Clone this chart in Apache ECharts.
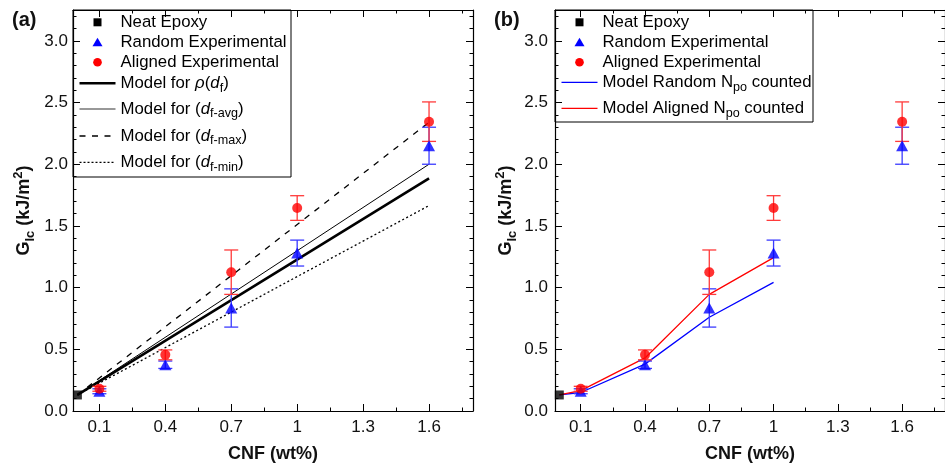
<!DOCTYPE html>
<html>
<head>
<meta charset="utf-8">
<script src="https://cdn.jsdelivr.net/npm/echarts@6/dist/echarts.min.js"></script>
<style>
  html, body { margin: 0; padding: 0; background: #fff; }
  #chart { width: 945px; height: 468px; }
</style>
</head>
<body>
<div id="chart"></div>
<script>
// ---- data: fracture toughness G_Ic (kJ/m^2) vs CNF loading (wt%) ----
const cnfLevels      = [0.1, 0.4, 0.7, 1.0, 1.6];
const randomMean     = [0.16, 0.375, 0.835, 1.28, 2.15];
const randomErr      = [0.02, 0.03, 0.155, 0.105, 0.15];
const alignedMean    = [0.18, 0.455, 1.125, 1.645, 2.345];
const alignedErr     = [0.02, 0.04, 0.18, 0.10, 0.16];
const neatCnf        = [0];
const neatMean       = [0.13];

// model predictions, panel (a): fibre-diameter based models
const modelAX        = [0, 1.6];
const modelRho       = [0.13, 1.885];
const modelAvg       = [0.13, 2.0];
const modelMax       = [0.13, 2.34];
const modelMin       = [0.13, 1.665];

// model predictions, panel (b): pull-out count based models
const modelBX        = [0, 0.1, 0.4, 0.7, 1.0];
const modelRandomNpo = [0.13, 0.15, 0.38, 0.76, 1.043];
const modelAlignNpo  = [0.13, 0.165, 0.43, 0.945, 1.243];

// axis ticks
const xMajorTicks = [0.1, 0.4, 0.7, 1.0, 1.3, 1.6];
const xTickLabels = ['0.1', '0.4', '0.7', '1', '1.3', '1.6'];
const xMinorTicks = [0.25, 0.55, 0.85, 1.15, 1.45, 1.75];
const yMajorTicks = [0, 0.5, 1.0, 1.5, 2.0, 2.5, 3.0];
const yTickLabels = ['0.0', '0.5', '1.0', '1.5', '2.0', '2.5', '3.0'];
const yMinorTicks = [0.1, 0.2, 0.3, 0.4, 0.6, 0.7, 0.8, 0.9, 1.1, 1.2, 1.3, 1.4,
                     1.6, 1.7, 1.8, 1.9, 2.1, 2.2, 2.3, 2.4, 2.6, 2.7, 2.8, 2.9, 3.1, 3.2];

// ---- styling ----
const FONT = "'Liberation Sans', Arial, Helvetica, sans-serif";
const X_MIN = -0.02, X_MAX = 1.8, Y_MIN = 0, Y_MAX = 3.25;
const BLUE = '#0000ff', RED = '#ff0000';
const BLUE_BAR = '#3a3aff', RED_BAR = '#ff3a3a';

const zip = (xs, ys) => xs.map((x, i) => [x, ys[i]]);
const zip3 = (xs, ys, es) => xs.map((x, i) => [x, ys[i], es[i]]);

function tickLabel(values, labels) {
  return v => {
    const i = values.findIndex(t => Math.abs(t - v) < 1e-9);
    return i >= 0 ? labels[i] : '';
  };
}

const frameLine = { show: true, onZero: false, lineStyle: { color: '#000', width: 1.2 } };
const tickStyle = { color: '#000', width: 1 };

function makeXAxes(grid) {
  const base = { type: 'value', gridIndex: grid, min: X_MIN, max: X_MAX, splitLine: { show: false } };
  return [
    Object.assign({}, base, {
      position: 'bottom', axisLine: frameLine,
      axisTick: { show: true, inside: true, length: 7, customValues: xMajorTicks, lineStyle: tickStyle },
      axisLabel: { show: true, customValues: xMajorTicks, formatter: tickLabel(xMajorTicks, xTickLabels),
                   margin: 8, color: '#111', fontSize: 17, fontFamily: FONT },
      name: 'CNF (wt%)', nameLocation: 'middle', nameGap: 34,
      nameTextStyle: { color: '#111', fontSize: 18, fontWeight: 'bold', fontFamily: FONT }
    }),
    Object.assign({}, base, {
      position: 'bottom', axisLine: { show: false, onZero: false },
      axisTick: { show: true, inside: true, length: 3.5, customValues: xMinorTicks, lineStyle: tickStyle },
      axisLabel: { show: false }
    }),
    Object.assign({}, base, {
      position: 'top', axisLine: frameLine,
      axisTick: { show: true, inside: true, length: 7, customValues: xMajorTicks, lineStyle: tickStyle },
      axisLabel: { show: false }
    }),
    Object.assign({}, base, {
      position: 'top', axisLine: { show: false, onZero: false },
      axisTick: { show: true, inside: true, length: 3.5, customValues: xMinorTicks, lineStyle: tickStyle },
      axisLabel: { show: false }
    })
  ];
}

function makeYAxes(grid, labelMargin) {
  const base = { type: 'value', gridIndex: grid, min: Y_MIN, max: Y_MAX, splitLine: { show: false } };
  return [
    Object.assign({}, base, {
      position: 'left', axisLine: frameLine,
      axisTick: { show: true, inside: true, length: 7, customValues: yMajorTicks, lineStyle: tickStyle },
      axisLabel: { show: true, customValues: yMajorTicks, formatter: tickLabel(yMajorTicks, yTickLabels),
                   margin: labelMargin, color: '#111', fontSize: 17, fontFamily: FONT },
      name: '{b|G}{bs|Ic}{b| (kJ/m}{bp|2}{b|)}', nameLocation: 'middle', nameGap: 36, nameRotate: 90,
      nameTextStyle: {
        color: '#111', fontFamily: FONT,
        rich: {
          b:  { fontSize: 18, fontWeight: 'bold', fontFamily: FONT, color: '#111', lineHeight: 25 },
          bs: { fontSize: 13, fontWeight: 'bold', fontFamily: FONT, color: '#111', verticalAlign: 'bottom' },
          bp: { fontSize: 13, fontWeight: 'bold', fontFamily: FONT, color: '#111', verticalAlign: 'top' }
        }
      }
    }),
    Object.assign({}, base, {
      position: 'left', axisLine: { show: false, onZero: false },
      axisTick: { show: true, inside: true, length: 3.5, customValues: yMinorTicks, lineStyle: tickStyle },
      axisLabel: { show: false }
    }),
    Object.assign({}, base, {
      position: 'right', axisLine: frameLine,
      axisTick: { show: true, inside: true, length: 7, customValues: yMajorTicks, lineStyle: tickStyle },
      axisLabel: { show: false }
    }),
    Object.assign({}, base, {
      position: 'right', axisLine: { show: false, onZero: false },
      axisTick: { show: true, inside: true, length: 3.5, customValues: yMinorTicks, lineStyle: tickStyle },
      axisLabel: { show: false }
    })
  ];
}

// vertical error bars with caps
function errorBars(name, grid, data, color) {
  return {
    name: name, type: 'custom', xAxisIndex: grid * 4, yAxisIndex: grid * 4,
    data: data, encode: { x: 0, y: 1 }, clip: false, z: 3,
    renderItem: function (params, api) {
      const x = api.value(0), y = api.value(1), e = api.value(2);
      const top = api.coord([x, y + e]);
      const bot = api.coord([x, y - e]);
      const hw = 7;
      const style = { stroke: color, lineWidth: 1.3 };
      return {
        type: 'group',
        children: [
          { type: 'line', shape: { x1: top[0], y1: top[1], x2: bot[0], y2: bot[1] }, style: style },
          { type: 'line', shape: { x1: top[0] - hw, y1: top[1], x2: top[0] + hw, y2: top[1] }, style: style },
          { type: 'line', shape: { x1: bot[0] - hw, y1: bot[1], x2: bot[0] + hw, y2: bot[1] }, style: style }
        ]
      };
    }
  };
}

function modelLine(name, grid, xs, ys, color, width, dash) {
  return {
    name: name, type: 'line', xAxisIndex: grid * 4, yAxisIndex: grid * 4,
    data: zip(xs, ys), symbol: 'none', showSymbol: false, z: 2,
    lineStyle: { color: color, width: width, type: dash || 'solid' }
  };
}

function markers(grid) {
  return [
    { name: 'Neat Epoxy', type: 'scatter', xAxisIndex: grid * 4, yAxisIndex: grid * 4,
      data: zip(neatCnf, neatMean), symbol: 'rect', symbolSize: 9, clip: false, z: 4,
      itemStyle: { color: '#000' } },
    { name: 'Random Experimental', type: 'scatter', xAxisIndex: grid * 4, yAxisIndex: grid * 4,
      data: zip(cnfLevels, randomMean), symbol: 'triangle', symbolSize: [12, 11], clip: false, z: 4,
      itemStyle: { color: BLUE } },
    { name: 'Aligned Experimental', type: 'scatter', xAxisIndex: grid * 4, yAxisIndex: grid * 4,
      data: zip(cnfLevels, alignedMean), symbol: 'circle', symbolSize: 10, clip: false, z: 5,
      itemStyle: { color: RED } }
  ];
}

// ---- legend boxes (drawn as graphic elements) ----
const legendRich = {
  n: { fontSize: 16.8, fontFamily: FONT, fill: '#000', lineHeight: 23 },
  i: { fontSize: 16.8, fontFamily: FONT, fontStyle: 'italic', fill: '#000', lineHeight: 23 },
  s: { fontSize: 12.6, fontFamily: FONT, fill: '#000', verticalAlign: 'bottom' }
};

function legendIcon(icon, cx, cy) {
  if (icon.kind === 'square') {
    return { type: 'rect', shape: { x: cx - 4, y: cy - 4, width: 8, height: 8 }, style: { fill: '#000' } };
  }
  if (icon.kind === 'triangle') {
    return { type: 'polygon', shape: { points: [[cx, cy - 4.5], [cx + 5, cy + 4], [cx - 5, cy + 4]] },
             style: { fill: BLUE } };
  }
  if (icon.kind === 'circle') {
    return { type: 'circle', shape: { cx: cx, cy: cy, r: 4.3 }, style: { fill: RED } };
  }
  return { type: 'line', shape: { x1: cx - 18, y1: cy, x2: cx + 18, y2: cy },
           style: { stroke: icon.color, lineWidth: icon.width, lineDash: icon.dash || null } };
}

function legendBox(x, y, w, h, rows) {
  const children = [
    { type: 'rect', shape: { x: x, y: y, width: w, height: h },
      style: { fill: '#fff', stroke: '#000', lineWidth: 1 } }
  ];
  rows.forEach(r => {
    children.push(legendIcon(r.icon, x + 24.5, r.y));
    children.push({
      type: 'text',
      style: { x: x + 47.5, y: r.y, text: r.text, fill: '#000', fontSize: 16.8, fontFamily: FONT,
               textAlign: 'left', textVerticalAlign: 'middle', rich: legendRich }
    });
  });
  return { type: 'group', z: 100, children: children };
}

const legendA = legendBox(73, 10, 218, 167, [
  { y: 22.3,  icon: { kind: 'square' },   text: '{n|Neat Epoxy}' },
  { y: 42.3,  icon: { kind: 'triangle' }, text: '{n|Random Experimental}' },
  { y: 62.3,  icon: { kind: 'circle' },   text: '{n|Aligned Experimental}' },
  { y: 83.3,  icon: { kind: 'line', color: '#000', width: 2.6 },           text: '{n|Model for }{i|ρ}{n|(}{i|d}{s|f}{n|)}' },
  { y: 109,   icon: { kind: 'line', color: '#333', width: 1.1 },           text: '{n|Model for (}{i|d}{s|f-avg}{n|)}' },
  { y: 136,   icon: { kind: 'line', color: '#000', width: 1.3, dash: [6, 6.5] }, text: '{n|Model for (}{i|d}{s|f-max}{n|)}' },
  { y: 162.3, icon: { kind: 'line', color: '#000', width: 1.3, dash: [2, 2] },   text: '{n|Model for (}{i|d}{s|f-min}{n|)}' }
]);

const legendB = legendBox(555, 10, 258, 112, [
  { y: 22.3,  icon: { kind: 'square' },   text: '{n|Neat Epoxy}' },
  { y: 42.3,  icon: { kind: 'triangle' }, text: '{n|Random Experimental}' },
  { y: 62.3,  icon: { kind: 'circle' },   text: '{n|Aligned Experimental}' },
  { y: 82.3,  icon: { kind: 'line', color: BLUE, width: 1.3 }, text: '{n|Model Random N}{s|po}{n| counted}' },
  { y: 108.3, icon: { kind: 'line', color: RED, width: 1.3 },  text: '{n|Model Aligned N}{s|po}{n| counted}' }
]);

function panelLabel(text, x) {
  return { type: 'text', z: 100,
    style: { x: x, y: 20, text: text, fill: '#111', fontSize: 20, fontWeight: 'bold', fontFamily: FONT,
             textAlign: 'left', textVerticalAlign: 'middle' } };
}

const chart = echarts.init(document.getElementById('chart'), null, { renderer: 'canvas' });

chart.setOption({
  animation: false,
  backgroundColor: '#fff',
  grid: [
    { left: 73, top: 10, width: 400, height: 405 },
    { left: 555, top: 10, width: 400, height: 405 }
  ],
  xAxis: makeXAxes(0).concat(makeXAxes(1)),
  yAxis: makeYAxes(0, 5).concat(makeYAxes(1, 7)),
  series: [
    // panel (a)
    modelLine('Model for rho(df)', 0, modelAX, modelRho, '#000', 2.6),
    modelLine('Model for (df-avg)', 0, modelAX, modelAvg, '#000', 1.0),
    modelLine('Model for (df-max)', 0, modelAX, modelMax, '#000', 1.3, [6, 6.5]),
    modelLine('Model for (df-min)', 0, modelAX, modelMin, '#000', 1.3, [2, 2.5]),
    errorBars('Random error (a)', 0, zip3(cnfLevels, randomMean, randomErr), BLUE_BAR),
    errorBars('Aligned error (a)', 0, zip3(cnfLevels, alignedMean, alignedErr), RED_BAR),
    ...markers(0),
    // panel (b)
    modelLine('Model Random Npo counted', 1, modelBX, modelRandomNpo, BLUE, 1.3),
    modelLine('Model Aligned Npo counted', 1, modelBX, modelAlignNpo, RED, 1.3),
    errorBars('Random error (b)', 1, zip3(cnfLevels, randomMean, randomErr), BLUE_BAR),
    errorBars('Aligned error (b)', 1, zip3(cnfLevels, alignedMean, alignedErr), RED_BAR),
    ...markers(1)
  ],
  graphic: [
    legendA,
    legendB,
    panelLabel('(a)', 12),
    panelLabel('(b)', 494)
  ]
});
</script>
</body>
</html>
